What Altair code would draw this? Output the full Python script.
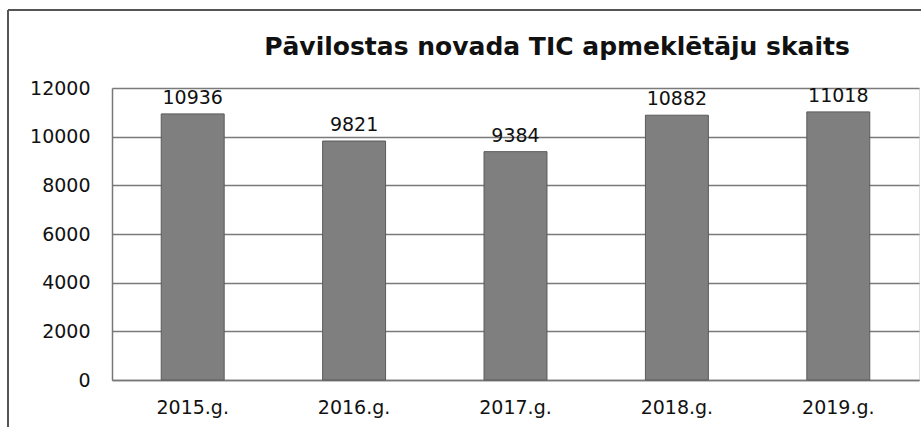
import altair as alt
import pandas as pd

years = ["2015.g.", "2016.g.", "2017.g.", "2018.g.", "2019.g."]
visitors = [10936, 9821, 9384, 10882, 11018]
y_ticks = [0, 2000, 4000, 6000, 8000, 10000, 12000]
title_text = "Pāvilostas novada TIC apmeklētāju skaits"

df = pd.DataFrame({"year": years, "visitors": visitors})
title_df = pd.DataFrame({"t": [title_text]})
FONT = "DejaVu Sans"

x_enc = alt.X("year:N", sort=years, title=None,
              scale=alt.Scale(paddingInner=0.61, paddingOuter=0.305),
              axis=alt.Axis(labelAngle=0, labelFontSize=19, labelColor="#111",
                            labelFont=FONT, ticks=False, labelPadding=18,
                            domainColor="#777", domainWidth=1.5))
y_enc = alt.Y("visitors:Q", title=None,
              scale=alt.Scale(domain=[0, 12000], nice=False),
              axis=alt.Axis(values=y_ticks, format="d", labelFontSize=19, labelColor="#111",
                            labelFont=FONT, ticks=False, labelPadding=22,
                            gridColor="#7a7a7a", gridWidth=1.5,
                            domainColor="#777", domainWidth=1.5))

bars = alt.Chart(df).mark_bar(color="#7f7f7f", stroke="#5a5a5a", strokeWidth=1).encode(
    x=x_enc, y=y_enc)

labels = alt.Chart(df).mark_text(baseline="bottom", dy=-6, fontSize=19, font=FONT,
                                 color="#111").encode(
    x=alt.X("year:N", sort=years), y="visitors:Q", text=alt.Text("visitors:Q", format="d"))

title = alt.Chart(title_df).mark_text(font=FONT, fontSize=25, fontWeight="bold",
                                      color="#111", align="center", baseline="middle").encode(
    x=alt.value(445), y=alt.value(-41), text="t:N")

frame_top = alt.Chart(df).mark_rule(color="#555", strokeWidth=2).encode(
    x=alt.value(-104), x2=alt.value(812), y=alt.value(-78))
frame_left = alt.Chart(df).mark_rule(color="#555", strokeWidth=2).encode(
    x=alt.value(-104), y=alt.value(-78), y2=alt.value(345))

chart = alt.layer(bars, labels, title, frame_top, frame_left).properties(
    width=807, height=292,
    autosize=alt.AutoSizeParams(type="none"),
    padding={"left": 112, "top": 88, "right": 2, "bottom": 47},
).configure_view(stroke=None).configure(background="white")

chart.save("out.html", embed_options={"renderer": "svg", "actions": False})
